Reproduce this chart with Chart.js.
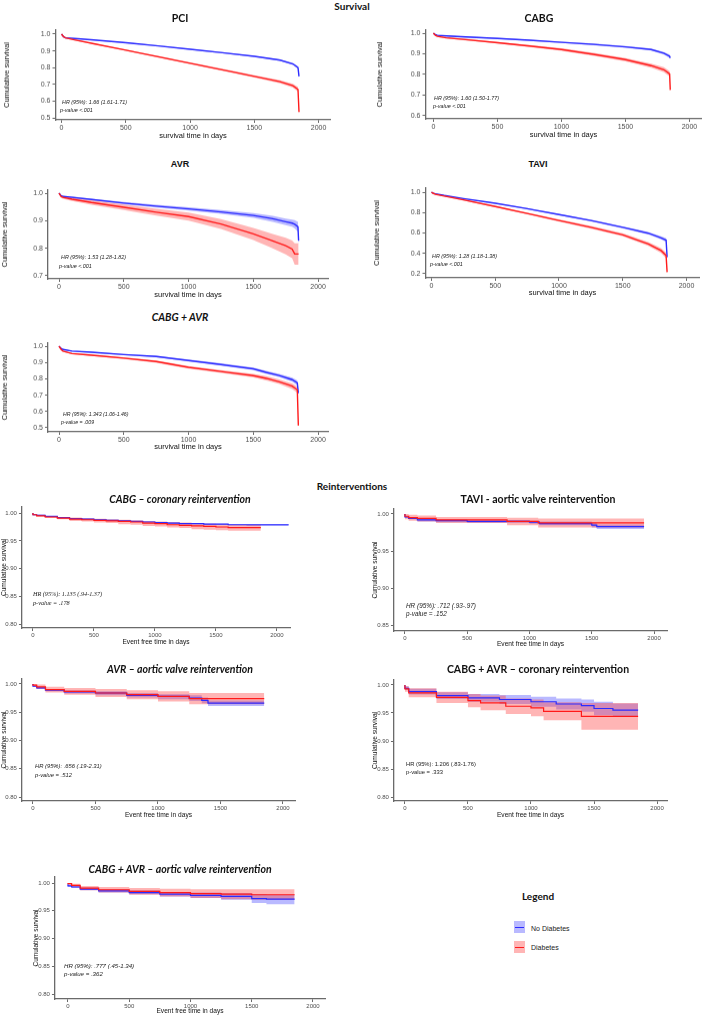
<!DOCTYPE html>
<html><head><meta charset="utf-8">
<script src="https://cdn.jsdelivr.net/npm/chart.js"></script>
<style>
body{margin:0;width:702px;height:1016px;position:relative;background:#fff;overflow:hidden;font-family:"Liberation Sans",Arial,sans-serif}
.pn{position:absolute}
.tx{position:absolute;white-space:nowrap;line-height:1}
</style></head><body>
<script>
// ---------------- DATA ----------------
const xTickVals = [0, 500, 1000, 1500, 2000];
const pciYTicks = [0.5, 0.6, 0.7, 0.8, 0.9, 1.0];
const cabgYTicks = [0.6, 0.7, 0.8, 0.9, 1.0];
const avrYTicks = [0.7, 0.8, 0.9, 1.0];
const taviYTicks = [0.2, 0.4, 0.6, 0.8, 1.0];
const caYTicks = [0.5, 0.6, 0.7, 0.8, 0.9, 1.0];
const reintYTicks = [0.80, 0.85, 0.90, 0.95, 1.00];
const taviReintYTicks = [0.85, 0.90, 0.95, 1.00];

// PCI survival
const pciDays   = [0, 15, 30, 100, 250, 500, 750, 1000, 1250, 1500, 1700, 1800, 1840, 1848];
const pciNoDm   = [1.000, 0.985, 0.978, 0.974, 0.965, 0.949, 0.930, 0.910, 0.889, 0.867, 0.845, 0.822, 0.800, 0.748];
const pciNoDmLo = [1.000, 0.984, 0.976, 0.972, 0.963, 0.946, 0.927, 0.907, 0.885, 0.863, 0.840, 0.816, 0.793, 0.738];
const pciNoDmHi = [1.000, 0.986, 0.980, 0.976, 0.967, 0.952, 0.933, 0.913, 0.893, 0.871, 0.850, 0.828, 0.807, 0.758];
const pciDm     = [1.000, 0.985, 0.978, 0.966, 0.943, 0.904, 0.865, 0.826, 0.787, 0.748, 0.716, 0.692, 0.670, 0.535];
const pciDmLo   = [1.000, 0.984, 0.976, 0.963, 0.940, 0.900, 0.860, 0.821, 0.781, 0.741, 0.707, 0.681, 0.657, 0.520];
const pciDmHi   = [1.000, 0.986, 0.980, 0.969, 0.946, 0.908, 0.870, 0.831, 0.793, 0.755, 0.725, 0.703, 0.683, 0.550];

// CABG survival
const cabgDays   = [0, 15, 30, 100, 250, 500, 750, 1000, 1250, 1500, 1700, 1800, 1845, 1850];
const cabgNoDm   = [1.000, 0.993, 0.990, 0.987, 0.982, 0.975, 0.966, 0.956, 0.946, 0.934, 0.921, 0.903, 0.888, 0.880];
const cabgNoDmLo = [1.000, 0.992, 0.988, 0.985, 0.980, 0.972, 0.963, 0.953, 0.942, 0.930, 0.916, 0.897, 0.880, 0.872];
const cabgNoDmHi = [1.000, 0.994, 0.992, 0.989, 0.984, 0.978, 0.969, 0.959, 0.950, 0.938, 0.926, 0.909, 0.896, 0.888];
const cabgDm     = [1.000, 0.990, 0.985, 0.978, 0.969, 0.954, 0.938, 0.921, 0.898, 0.872, 0.843, 0.823, 0.803, 0.725];
const cabgDmLo   = [1.000, 0.988, 0.982, 0.975, 0.965, 0.950, 0.933, 0.915, 0.891, 0.864, 0.833, 0.811, 0.790, 0.715];
const cabgDmHi   = [1.000, 0.992, 0.988, 0.981, 0.973, 0.958, 0.943, 0.927, 0.905, 0.880, 0.853, 0.835, 0.816, 0.735];

// AVR survival
const avrDays   = [0, 15, 30, 100, 250, 500, 750, 1000, 1250, 1500, 1650, 1750, 1800, 1820, 1845, 1850];
const avrNoDm   = [1.000, 0.991, 0.988, 0.985, 0.977, 0.964, 0.953, 0.943, 0.932, 0.919, 0.907, 0.896, 0.891, 0.887, 0.878, 0.827];
const avrNoDmLo = [1.000, 0.989, 0.986, 0.982, 0.974, 0.960, 0.948, 0.937, 0.925, 0.910, 0.896, 0.884, 0.878, 0.872, 0.860, 0.810];
const avrNoDmHi = [1.000, 0.993, 0.990, 0.988, 0.980, 0.968, 0.958, 0.949, 0.939, 0.928, 0.918, 0.908, 0.904, 0.902, 0.896, 0.845];
const avrDm     = [1.000, 0.988, 0.985, 0.978, 0.966, 0.949, 0.931, 0.915, 0.888, 0.852, 0.827, 0.809, 0.797, 0.779, 0.779, 0.779];
const avrDmLo   = [1.000, 0.984, 0.980, 0.972, 0.958, 0.939, 0.919, 0.900, 0.870, 0.830, 0.800, 0.778, 0.764, 0.740, 0.740, 0.740];
const avrDmHi   = [1.000, 0.992, 0.990, 0.984, 0.974, 0.959, 0.943, 0.930, 0.906, 0.874, 0.852, 0.838, 0.828, 0.818, 0.818, 0.818];

// TAVI survival
const taviDays   = [0, 15, 30, 100, 250, 500, 750, 1000, 1250, 1500, 1700, 1800, 1840, 1848];
const taviNoDm   = [1.000, 0.990, 0.985, 0.968, 0.937, 0.892, 0.838, 0.781, 0.722, 0.655, 0.598, 0.552, 0.530, 0.363];
const taviNoDmLo = [1.000, 0.989, 0.983, 0.965, 0.933, 0.887, 0.832, 0.774, 0.714, 0.645, 0.585, 0.537, 0.512, 0.345];
const taviNoDmHi = [1.000, 0.991, 0.987, 0.971, 0.941, 0.897, 0.844, 0.788, 0.730, 0.665, 0.611, 0.567, 0.548, 0.381];
const taviDm     = [1.000, 0.988, 0.980, 0.962, 0.925, 0.859, 0.792, 0.722, 0.655, 0.582, 0.493, 0.428, 0.379, 0.216];
const taviDmLo   = [1.000, 0.986, 0.977, 0.958, 0.919, 0.852, 0.783, 0.711, 0.642, 0.567, 0.474, 0.404, 0.352, 0.200];
const taviDmHi   = [1.000, 0.990, 0.983, 0.966, 0.931, 0.866, 0.801, 0.733, 0.668, 0.597, 0.512, 0.452, 0.406, 0.232];

// CABG + AVR survival
const caDays   = [0, 15, 30, 100, 250, 500, 750, 1000, 1250, 1500, 1600, 1700, 1800, 1840, 1848];
const caNoDm   = [1.000, 0.987, 0.980, 0.970, 0.963, 0.949, 0.937, 0.912, 0.888, 0.861, 0.840, 0.820, 0.795, 0.775, 0.712];
const caNoDmLo = [1.000, 0.985, 0.977, 0.967, 0.959, 0.945, 0.932, 0.906, 0.881, 0.853, 0.831, 0.810, 0.783, 0.760, 0.700];
const caNoDmHi = [1.000, 0.989, 0.983, 0.973, 0.967, 0.953, 0.942, 0.918, 0.895, 0.869, 0.849, 0.830, 0.807, 0.790, 0.724];
const caDm     = [1.000, 0.982, 0.970, 0.955, 0.945, 0.927, 0.906, 0.871, 0.845, 0.820, 0.803, 0.782, 0.755, 0.733, 0.514];
const caDmLo   = [1.000, 0.980, 0.967, 0.951, 0.940, 0.921, 0.899, 0.863, 0.836, 0.809, 0.790, 0.768, 0.738, 0.714, 0.500];
const caDmHi   = [1.000, 0.984, 0.973, 0.959, 0.950, 0.933, 0.913, 0.879, 0.854, 0.831, 0.816, 0.796, 0.772, 0.752, 0.528];

// CABG – coronary reintervention
const rcDaysNo = [0, 30, 100, 200, 300, 400, 500, 600, 700, 800, 900, 1000, 1100, 1200, 1300, 1400, 1500, 1600, 1750, 2000, 2096];
const rcNoDm   = [1.000, 0.997, 0.996, 0.994, 0.992, 0.990, 0.989, 0.988, 0.987, 0.986, 0.985, 0.984, 0.983, 0.982, 0.981, 0.981, 0.980, 0.980, 0.979, 0.979, 0.979];
const rcNoDmLo = [1.000, 0.996, 0.995, 0.993, 0.991, 0.989, 0.988, 0.987, 0.986, 0.985, 0.984, 0.983, 0.982, 0.981, 0.980, 0.980, 0.979, 0.979, 0.978, 0.977, 0.977];
const rcNoDmHi = [1.000, 0.998, 0.997, 0.995, 0.993, 0.991, 0.990, 0.989, 0.988, 0.987, 0.986, 0.985, 0.984, 0.983, 0.982, 0.982, 0.981, 0.981, 0.980, 0.980, 0.980];
const rcDaysDm = [0, 30, 100, 200, 300, 400, 500, 600, 700, 800, 900, 1000, 1100, 1200, 1300, 1400, 1500, 1600, 1750, 1868];
const rcDm     = [1.000, 0.997, 0.995, 0.993, 0.991, 0.989, 0.988, 0.987, 0.986, 0.985, 0.984, 0.982, 0.981, 0.979, 0.978, 0.977, 0.976, 0.975, 0.974, 0.974];
const rcDmLo   = [1.000, 0.996, 0.994, 0.991, 0.989, 0.986, 0.985, 0.983, 0.982, 0.980, 0.979, 0.977, 0.976, 0.974, 0.973, 0.971, 0.970, 0.969, 0.968, 0.968];
const rcDmHi   = [1.000, 0.998, 0.997, 0.995, 0.993, 0.992, 0.991, 0.990, 0.989, 0.988, 0.987, 0.986, 0.985, 0.984, 0.983, 0.982, 0.981, 0.980, 0.979, 0.979];

// TAVI - aortic valve reintervention
const rtDaysNo = [0, 30, 100, 250, 500, 1000, 1080, 1500, 1540, 1560, 1920];
const rtNoDm   = [1.000, 0.996, 0.994, 0.992, 0.991, 0.990, 0.989, 0.987, 0.985, 0.983, 0.983];
const rtNoDmLo = [1.000, 0.995, 0.993, 0.990, 0.989, 0.988, 0.987, 0.985, 0.982, 0.980, 0.980];
const rtNoDmHi = [1.000, 0.997, 0.995, 0.994, 0.993, 0.992, 0.991, 0.990, 0.988, 0.986, 0.986];
const rtDaysDm = [0, 30, 100, 250, 820, 1070, 1540, 1920];
const rtDm     = [1.000, 0.997, 0.995, 0.994, 0.992, 0.990, 0.988, 0.988];
const rtDmLo   = [1.000, 0.993, 0.991, 0.990, 0.988, 0.985, 0.982, 0.982];
const rtDmHi   = [1.000, 1.000, 0.999, 0.998, 0.996, 0.995, 0.994, 0.994];

// AVR – aortic valve reintervention
const raDaysNo = [0, 30, 100, 250, 500, 750, 1000, 1250, 1350, 1400, 1850];
const raNoDm   = [1.000, 0.996, 0.993, 0.989, 0.986, 0.984, 0.980, 0.978, 0.975, 0.971, 0.966];
const raNoDmLo = [1.000, 0.995, 0.991, 0.987, 0.983, 0.980, 0.976, 0.973, 0.970, 0.966, 0.961];
const raNoDmHi = [1.000, 0.997, 0.995, 0.991, 0.989, 0.987, 0.984, 0.982, 0.980, 0.976, 0.971];
const raDaysDm = [0, 30, 100, 250, 500, 750, 1000, 1250, 1400, 1850];
const raDm     = [1.000, 0.998, 0.995, 0.990, 0.987, 0.984, 0.981, 0.978, 0.974, 0.974];
const raDmLo   = [1.000, 0.995, 0.991, 0.985, 0.981, 0.977, 0.973, 0.969, 0.964, 0.964];
const raDmHi   = [1.000, 1.000, 0.999, 0.995, 0.993, 0.991, 0.989, 0.987, 0.984, 0.984];

// CABG + AVR – coronary reintervention
const rkDaysNo = [0, 30, 250, 500, 750, 1000, 1200, 1400, 1500, 1650, 1700, 1850];
const rkNoDm   = [1.000, 0.994, 0.988, 0.981, 0.977, 0.974, 0.970, 0.966, 0.963, 0.958, 0.955, 0.955];
const rkNoDmLo = [1.000, 0.991, 0.983, 0.975, 0.970, 0.966, 0.961, 0.956, 0.952, 0.946, 0.943, 0.943];
const rkNoDmHi = [1.000, 0.997, 0.993, 0.987, 0.984, 0.982, 0.979, 0.976, 0.974, 0.970, 0.967, 0.967];
const rkDaysDm = [0, 30, 250, 500, 600, 800, 1000, 1100, 1400, 1720, 1850];
const rkDm     = [1.000, 0.993, 0.986, 0.978, 0.972, 0.968, 0.962, 0.959, 0.953, 0.944, 0.944];
const rkDmLo   = [1.000, 0.988, 0.978, 0.968, 0.960, 0.955, 0.948, 0.944, 0.937, 0.920, 0.920];
const rkDmHi   = [1.000, 0.998, 0.994, 0.988, 0.984, 0.981, 0.976, 0.974, 0.969, 0.968, 0.968];

// CABG + AVR – aortic valve reintervention
const rvDaysNo = [0, 30, 100, 250, 500, 750, 1000, 1250, 1500, 1620, 1850];
const rvNoDm   = [0.998, 0.995, 0.993, 0.989, 0.986, 0.983, 0.980, 0.978, 0.976, 0.972, 0.971];
const rvNoDmLo = [0.996, 0.993, 0.991, 0.987, 0.983, 0.980, 0.976, 0.973, 0.970, 0.964, 0.962];
const rvNoDmHi = [1.000, 0.997, 0.995, 0.992, 0.989, 0.987, 0.984, 0.983, 0.982, 0.980, 0.979];
const rvDaysDm = [0, 30, 100, 250, 500, 750, 1000, 1250, 1500, 1850];
const rvDm     = [1.000, 0.999, 0.996, 0.991, 0.988, 0.985, 0.983, 0.981, 0.980, 0.979];
const rvDmLo   = [1.000, 0.997, 0.993, 0.987, 0.983, 0.979, 0.976, 0.973, 0.971, 0.970];
const rvDmHi   = [1.000, 1.000, 0.999, 0.995, 0.993, 0.991, 0.990, 0.989, 0.989, 0.989];

// ---------------- STYLE / LAYOUT ----------------
const BLUE = '#2b2bff', RED = '#ff1a1a';
const BLUE_FILL = 'rgba(70,70,255,0.38)', RED_FILL = 'rgba(255,60,60,0.38)';
const AXIS = '#6a6a6a';
const SANS = '"Liberation Sans", Arial, sans-serif';
const TITLEF = 'Lato, "Open Sans", sans-serif';

function pts(days, vals) { return days.map((d, i) => ({x: d, y: vals[i]})); }

function makePanel(p) {
  const lhY = p.ytSize * 1.2, lhX = p.xtSize * 1.2;
  const left = Math.max(0, p.yTitleX - lhY / 2);
  const padTop = 8, padRight = 12;
  const top = p.T - padTop;
  const bottom = p.xTitleY + lhX / 2;
  const width = p.R - left + padRight;
  const height = bottom - top;
  const yw = p.L - left, xh = bottom - p.B;
  const div = document.createElement('div');
  div.className = 'pn';
  div.style.cssText = `left:${left}px;top:${top}px;width:${width}px;height:${height}px`;
  const cv = document.createElement('canvas');
  div.appendChild(cv);
  document.body.appendChild(div);
  const st = p.stepped ? 'after' : false;
  const band = (d, v, f, ord) => ({data: pts(d, v), borderColor: 'transparent', borderWidth: 0, pointRadius: 0, fill: f, backgroundColor: f ? (ord === 3 ? BLUE_FILL : RED_FILL) : 'transparent', stepped: st, order: ord, tension: 0});
  const g = p.g;
  const datasets = [
    band(g.noDays, g.noHi, '+1', 3), band(g.noDays, g.noLo, false, 3),
    band(g.dmDays, g.dmHi, '+1', 2), band(g.dmDays, g.dmLo, false, 2),
    {data: pts(g.noDays, g.no), borderColor: BLUE, borderWidth: p.lw, pointRadius: 0, fill: false, stepped: st, order: 1, tension: 0},
    {data: pts(g.dmDays, g.dm), borderColor: RED, borderWidth: p.lw, pointRadius: 0, fill: false, stepped: st, order: 0, tension: 0}
  ];
  const tickFont = {family: SANS, size: p.tickSize};
  new Chart(cv, {
    type: 'line',
    data: {datasets},
    options: {
      responsive: true, maintainAspectRatio: false, animation: false,
      layout: {padding: {top: padTop, right: padRight, left: 0, bottom: 0}},
      plugins: {legend: {display: false}, tooltip: {enabled: false}},
      events: [],
      scales: {
        x: {
          type: 'linear', min: p.xmin, max: p.xmax,
          afterBuildTicks: s => { s.ticks = xTickVals.map(v => ({value: v})); },
          afterFit: s => { s.height = xh; },
          grid: {display: true, drawOnChartArea: false, drawTicks: true, tickLength: 3, color: AXIS},
          border: {display: true, color: AXIS, width: 1.3},
          ticks: {font: tickFont, color: '#4d4d4d', padding: 1, maxRotation: 0, autoSkip: false, callback: v => String(v)},
          title: {display: true, text: p.xTitle, font: {family: SANS, size: p.xtSize}, color: '#111', padding: 0}
        },
        y: {
          type: 'linear', min: p.ymin, max: p.ymax,
          afterBuildTicks: s => { s.ticks = p.yTicks.map(v => ({value: v})); },
          afterFit: s => { s.width = yw; },
          grid: {display: true, drawOnChartArea: false, drawTicks: true, tickLength: 3, color: AXIS},
          border: {display: true, color: AXIS, width: 1.3},
          ticks: {font: tickFont, color: '#4d4d4d', padding: 2, autoSkip: false, callback: v => Number(v).toFixed(p.dec)},
          title: {display: true, text: 'Cumulative survival', font: {family: SANS, size: p.ytSize}, color: '#111', padding: 0}
        }
      }
    }
  });
}

function txt(s, x, y, css, align) {
  const d = document.createElement('div');
  d.className = 'tx';
  d.textContent = s;
  d.style.cssText = `left:${x}px;top:${y}px;transform:translate(${align === 'left' ? '0' : '-50%'},-50%);` + css;
  document.body.appendChild(d);
}

const SURV = {tickSize: 7, xtSize: 7.5, ytSize: 7.5, dec: 1, lw: 1.4, stepped: false, xTitle: 'survival time in days'};
const REIN = {tickSize: 6, xtSize: 6.6, ytSize: 6.6, dec: 2, lw: 1.2, stepped: true, xTitle: 'Event free time in days'};

const panels = [
  Object.assign({}, SURV, {L: 55, R: 330, T: 30, B: 119, yTitleX: 6, xTitleY: 135, xmin: -47, xmax: 2093, ymin: 0.488, ymax: 1.024, yTicks: pciYTicks,
    g: {noDays: pciDays, no: pciNoDm, noLo: pciNoDmLo, noHi: pciNoDmHi, dmDays: pciDays, dm: pciDm, dmLo: pciDmLo, dmHi: pciDmHi}}),
  Object.assign({}, SURV, {L: 425, R: 701, T: 30, B: 118, yTitleX: 379, xTitleY: 134, xmin: -62, xmax: 2094, ymin: 0.585, ymax: 1.015, yTicks: cabgYTicks,
    g: {noDays: cabgDays, no: cabgNoDm, noLo: cabgNoDmLo, noHi: cabgNoDmHi, dmDays: cabgDays, dm: cabgDm, dmLo: cabgDmLo, dmHi: cabgDmHi}}),
  Object.assign({}, SURV, {L: 48, R: 328, T: 190, B: 278, yTitleX: 4, xTitleY: 294, xmin: -85, xmax: 2077, ymin: 0.689, ymax: 1.011, yTicks: avrYTicks,
    g: {noDays: avrDays, no: avrNoDm, noLo: avrNoDmLo, noHi: avrNoDmHi, dmDays: avrDays, dm: avrDm, dmLo: avrDmLo, dmHi: avrDmHi}}),
  Object.assign({}, SURV, {L: 425, R: 699, T: 188, B: 277, yTitleX: 376, xTitleY: 292, xmin: -47, xmax: 2102, ymin: 0.16, ymax: 1.04, yTicks: taviYTicks,
    g: {noDays: taviDays, no: taviNoDm, noLo: taviNoDmLo, noHi: taviNoDmHi, dmDays: taviDays, dm: taviDm, dmLo: taviDmLo, dmHi: taviDmHi}}),
  Object.assign({}, SURV, {L: 48, R: 328, T: 343, B: 431, yTitleX: 4, xTitleY: 446, xmin: -85, xmax: 2077, ymin: 0.475, ymax: 1.019, yTicks: caYTicks,
    g: {noDays: caDays, no: caNoDm, noLo: caNoDmLo, noHi: caNoDmHi, dmDays: caDays, dm: caDm, dmLo: caDmLo, dmHi: caDmHi}}),
  Object.assign({}, REIN, {L: 22, R: 290, T: 507, B: 628, yTitleX: 4, xTitleY: 642, xmin: -90, xmax: 2107, ymin: 0.793, ymax: 1.011, yTicks: reintYTicks,
    g: {noDays: rcDaysNo, no: rcNoDm, noLo: rcNoDmLo, noHi: rcNoDmHi, dmDays: rcDaysDm, dm: rcDm, dmLo: rcDmLo, dmHi: rcDmHi}}),
  Object.assign({}, REIN, {L: 394, R: 667, T: 509, B: 631, yTitleX: 375, xTitleY: 644, xmin: -88, xmax: 2104, ymin: 0.843, ymax: 1.0067, yTicks: taviReintYTicks,
    g: {noDays: rtDaysNo, no: rtNoDm, noLo: rtNoDmLo, noHi: rtNoDmHi, dmDays: rtDaysDm, dm: rtDm, dmLo: rtDmLo, dmHi: rtDmHi}}),
  Object.assign({}, REIN, {L: 22, R: 295, T: 679, B: 801, yTitleX: 4, xTitleY: 815, xmin: -88, xmax: 2096, ymin: 0.793, ymax: 1.0088, yTicks: reintYTicks,
    g: {noDays: raDaysNo, no: raNoDm, noLo: raNoDmLo, noHi: raNoDmHi, dmDays: raDaysDm, dm: raDm, dmLo: raDmLo, dmHi: raDmHi}}),
  Object.assign({}, REIN, {L: 394, R: 667, T: 680, B: 801, yTitleX: 375, xTitleY: 815, xmin: -87, xmax: 2079, ymin: 0.793, ymax: 1.0088, yTicks: reintYTicks,
    g: {noDays: rkDaysNo, no: rkNoDm, noLo: rkNoDmLo, noHi: rkNoDmHi, dmDays: rkDaysDm, dm: rkDm, dmLo: rkDmLo, dmHi: rkDmHi}}),
  Object.assign({}, REIN, {L: 55, R: 325, T: 877, B: 999, yTitleX: 36, xTitleY: 1011, xmin: -106, xmax: 2098, ymin: 0.791, ymax: 1.011, yTicks: reintYTicks,
    g: {noDays: rvDaysNo, no: rvNoDm, noLo: rvNoDmLo, noHi: rvNoDmHi, dmDays: rvDaysDm, dm: rvDm, dmLo: rvDmLo, dmHi: rvDmHi}})
];
panels.forEach(makePanel);

// ---------------- TEXT ----------------
const H = `font-family:${TITLEF};font-weight:bold;color:#111;`;
const HA = `font-family:${SANS};font-weight:bold;color:#111;`;
txt('Survival', 352, 6, H + 'font-size:10px;');
txt('Reinterventions', 352, 486, H + 'font-size:10px;');
txt('PCI', 180, 18, H + 'font-size:10.5px;');
txt('CABG', 539, 18, H + 'font-size:10.5px;');
txt('AVR', 180, 164, HA + 'font-size:9px;');
txt('TAVI', 538, 164, HA + 'font-size:9px;');
txt('CABG + AVR', 180, 317, H + 'font-size:10.5px;font-style:italic;');
txt('CABG – coronary reintervention', 180, 499, H + 'font-size:10.5px;font-style:italic;');
txt('TAVI - aortic valve reintervention', 538, 499, H + 'font-size:10.5px;');
txt('AVR – aortic valve reintervention', 180, 669, H + 'font-size:10.5px;font-style:italic;');
txt('CABG + AVR – coronary reintervention', 538, 669, H + 'font-size:10.5px;');
txt('CABG + AVR – aortic valve reintervention', 180, 869, H + 'font-size:10.5px;font-style:italic;');

const HR = (sz, extra) => `font-family:${SANS};font-style:italic;font-size:${sz}px;color:#222;` + (extra || '');
txt('HR (95%): 1.66 (1.61-1.71)', 62, 103, HR(5.4), 'left');
txt('p-value <.001', 60, 111, HR(5.4), 'left');
txt('HR (95%): 1.60 (1.50-1.77)', 434, 99, HR(5.4), 'left');
txt('p-value <.001', 433, 107, HR(5.4), 'left');
txt('HR (95%): 1.53 (1.28-1.82)', 61, 258, HR(5.4), 'left');
txt('p-value <.001', 59, 267, HR(5.4), 'left');
txt('HR (95%): 1.28 (1.18-1.38)', 432, 257, HR(5.4), 'left');
txt('p-value <.001', 430, 265, HR(5.4), 'left');
txt('HR (95%): 1.343 (1.06-1.46)', 63, 415, HR(5.2), 'left');
txt('p-value = .009', 61, 423, HR(5.2), 'left');
txt('HR (95%): 1.135 (.94-1.37)', 33, 594, HR(6.2, 'font-family:"Liberation Serif",serif;'), 'left');
txt('p-value = .178', 33, 603, HR(6.2, 'font-family:"Liberation Serif",serif;'), 'left');
txt('HR (95%): .712 (.93-.97)', 406, 606, HR(6.4), 'left');
txt('p-value = .152', 406, 614, HR(6.4), 'left');
txt('HR (95%): .656 (.19-2.31)', 35, 767, HR(5.8), 'left');
txt('p-value = .512', 35, 776, HR(5.8), 'left');
txt('HR (95%): 1.206 (.83-1.76)', 406, 765, HR(5.8, 'font-style:normal;'), 'left');
txt('p-value = .333', 406, 773, HR(5.8, 'font-style:normal;'), 'left');
txt('HR (95%): .777 (.45-1.34)', 64, 966, HR(6.1), 'left');
txt('p-value = .362', 64, 974, HR(6.1), 'left');

// Legend
txt('Legend', 538, 896, H + 'font-size:10px;');
function swatch(y, fill, line) {
  const b = document.createElement('div');
  b.style.cssText = `position:absolute;left:514px;top:${y}px;width:11px;height:12px;background:${fill};`;
  const l = document.createElement('div');
  l.style.cssText = `position:absolute;left:1px;top:5.5px;width:9px;height:1.2px;background:${line};`;
  b.appendChild(l);
  document.body.appendChild(b);
}
swatch(921, BLUE_FILL, BLUE);
swatch(941, RED_FILL, RED);
txt('No Diabetes', 531, 928, `font-family:${SANS};font-size:7px;color:#222;`, 'left');
txt('Diabetes', 531, 947, `font-family:${SANS};font-size:7px;color:#222;`, 'left');
</script>
</body></html>
